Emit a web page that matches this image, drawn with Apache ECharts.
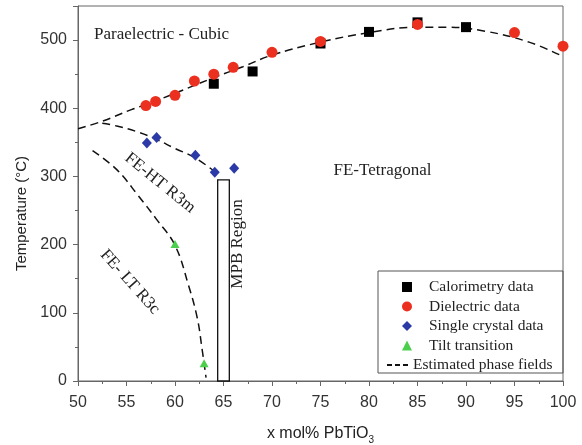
<!DOCTYPE html>
<html>
<head>
<meta charset="utf-8">
<script src="https://cdn.jsdelivr.net/npm/echarts@6.0.0/dist/echarts.min.js"></script>
<style>
html,body{margin:0;padding:0;background:#fff;}
#chart{width:582px;height:445px;}
</style>
</head>
<body>
<div id="chart"></div>
<script>
// ---- data ----
const xTicks = [50, 55, 60, 65, 70, 75, 80, 85, 90, 95, 100];
const yTicks = [0, 100, 200, 300, 400, 500];

const calorimetryX = [64, 68, 75, 80, 85, 90];
const calorimetryY = [436, 454, 495, 512, 526, 519];

const dielectricX = [57, 58, 60, 62, 64, 66, 70, 75, 85, 95, 100];
const dielectricY = [404, 410, 419, 440, 450, 460, 482, 498, 523, 511, 491];

const singleCrystalX = [57.1, 58.1, 62.1, 64.1, 66.1];
const singleCrystalY = [349, 357, 331, 306, 312];

const tiltX = [60, 63];
const tiltY = [201, 26];

// estimated phase boundaries (dashed)
const curieX = [50, 52.5, 55.5, 57.5, 60, 64, 67, 70, 75, 80, 85, 88, 92, 96.5, 100];
const curieY = [370, 381, 398, 408, 422, 445, 461, 478, 497, 511, 519, 519, 513, 497, 476];

const htBoundaryX = [52.5, 54, 56, 58, 60, 62, 64.2];
const htBoundaryY = [378, 374, 366, 355, 341, 328, 306];

const ltBoundaryX = [51.5, 54, 56.2, 58.1, 60, 61.4, 62.3, 62.8, 63.2];
const ltBoundaryY = [338, 310, 272, 237, 199, 140, 92, 46, 5];

// MPB region box: [xStart, xEnd, yStart, yEnd]
const mpbRegion = [64.4, 65.6, 0, 295];

const seriesNames = ['Calorimetry data', 'Dielectric data', 'Single crystal data', 'Tilt transition'];
const lineName = 'Estimated phase fields';

function zip(xs, ys) { return xs.map((x, i) => [x, ys[i]]); }

const serif = '"Liberation Serif", "Times New Roman", serif';
const sans = '"Liberation Sans", Arial, sans-serif';
const axisGray = '#666';

const dashStyle = { color: '#111', width: 1.5, type: [8, 5] };

const chart = echarts.init(document.getElementById('chart'), null, { renderer: 'canvas' });

const option = {
  animation: false,
  backgroundColor: '#fff',
  grid: { left: 78, right: 19, top: 6, bottom: 64, outerBoundsMode: 'none', containLabel: false,
    show: true, borderColor: axisGray, borderWidth: 1, backgroundColor: 'transparent' },
  xAxis: {
    type: 'value', min: xTicks[0], max: xTicks[xTicks.length - 1], interval: 5,
    name: 'x mol% PbTiO{s|3}', nameLocation: 'middle', nameGap: 42,
    nameTextStyle: { fontFamily: sans, fontSize: 16, color: '#222', lineHeight: 22,
      rich: { s: { fontFamily: sans, fontSize: 10, lineHeight: 10, verticalAlign: 'bottom', color: '#222' } } },
    axisLine: { show: true, lineStyle: { color: axisGray, width: 1 } },
    axisTick: { show: true, inside: false, length: 5, lineStyle: { color: axisGray } },
    minorTick: { show: true, splitNumber: 2, length: 3, lineStyle: { color: axisGray } },
    axisLabel: { fontFamily: sans, fontSize: 16, color: '#333', margin: 14 },
    splitLine: { show: false }
  },
  yAxis: {
    type: 'value', min: yTicks[0], max: 550, interval: 100,
    name: 'Temperature (°C)', nameLocation: 'middle', nameGap: 47,
    nameTextStyle: { fontFamily: sans, fontSize: 15, color: '#222', padding: [0, 40, 0, 0] },
    axisLine: { show: true, lineStyle: { color: axisGray, width: 1 } },
    axisTick: { show: true, inside: false, length: 5, lineStyle: { color: axisGray } },
    minorTick: { show: true, splitNumber: 2, length: 3, lineStyle: { color: axisGray } },
    axisLabel: { fontFamily: sans, fontSize: 16, color: '#333', margin: 11, showMaxLabel: false,
      formatter: v => (yTicks.indexOf(v) >= 0 ? String(v) : '') },
    splitLine: { show: false }
  },
  legend: [
    {
      data: seriesNames, orient: 'vertical', left: 402, top: 279, padding: 0,
      itemWidth: 10, itemHeight: 10, itemGap: 3.5,
      textStyle: { fontFamily: serif, fontSize: 15.5, color: '#222', lineHeight: 16, padding: [0, 0, 0, 12] }
    },
    {
      data: [{ name: lineName, icon: 'path://M0,0h5v2h-5zM8,0h5v2h-5zM16,0h5v2h-5z' }],
      orient: 'vertical', left: 387, top: 357, padding: 0,
      itemWidth: 21, itemHeight: 2,
      textStyle: { fontFamily: serif, fontSize: 15.5, color: '#222', lineHeight: 16 }
    }
  ],
  graphic: [
    { type: 'rect', shape: { x: 378, y: 271, width: 185, height: 102 }, style: { fill: 'transparent', stroke: '#555', lineWidth: 1 }, z: 1, silent: true },
    { type: 'text', x: 94, y: 35, style: { text: 'Paraelectric - Cubic', font: '17px ' + serif, fill: '#222', textAlign: 'left', textVerticalAlign: 'middle' } },
    { type: 'text', x: 382.5, y: 171, style: { text: 'FE-Tetragonal', font: '17px ' + serif, fill: '#222', textAlign: 'center', textVerticalAlign: 'middle' } },
    { type: 'text', x: 160, y: 183, rotation: -0.68, style: { text: 'FE-HT R3m', font: '17px ' + serif, fill: '#222', textAlign: 'center', textVerticalAlign: 'middle' } },
    { type: 'text', x: 130, y: 282, rotation: -0.84, style: { text: 'FE- LT R3c', font: '17px ' + serif, fill: '#222', textAlign: 'center', textVerticalAlign: 'middle' } },
    { type: 'text', x: 238, y: 244, rotation: Math.PI / 2, style: { text: 'MPB Region', font: '17px ' + serif, fill: '#222', textAlign: 'center', textVerticalAlign: 'middle' } }
  ],
  series: [
    { name: lineName, type: 'line', data: zip(curieX, curieY), smooth: 0.4, symbol: 'none', itemStyle: { color: '#111' }, lineStyle: dashStyle, z: 2, silent: true, clip: true },
    { name: lineName, type: 'line', data: zip(htBoundaryX, htBoundaryY), smooth: 0.4, symbol: 'none', itemStyle: { color: '#111' }, lineStyle: dashStyle, z: 2, silent: true, clip: true },
    { name: lineName, type: 'line', data: zip(ltBoundaryX, ltBoundaryY), smooth: 0.4, symbol: 'none', itemStyle: { color: '#111' }, lineStyle: dashStyle, z: 2, silent: true, clip: true },
    {
      name: 'MPB', type: 'custom', silent: true, z: 2,
      data: [mpbRegion],
      renderItem: function (params, api) {
        const p0 = api.coord([api.value(0), api.value(3)]);
        const p1 = api.coord([api.value(1), api.value(2)]);
        return { type: 'rect', shape: { x: p0[0], y: p0[1], width: p1[0] - p0[0], height: p1[1] - p0[1] },
          style: { fill: '#fff', stroke: '#111', lineWidth: 1.3 } };
      },
      encode: { x: [0, 1], y: [2, 3] }
    },
    { name: seriesNames[0], type: 'scatter', data: zip(calorimetryX, calorimetryY), symbol: 'rect', symbolSize: 10, itemStyle: { color: '#000', opacity: 1 }, z: 3 },
    { name: seriesNames[1], type: 'scatter', data: zip(dielectricX, dielectricY), symbol: 'circle', symbolSize: 11, itemStyle: { color: '#ec3020', opacity: 1 }, z: 4 },
    { name: seriesNames[2], type: 'scatter', data: zip(singleCrystalX, singleCrystalY), symbol: 'diamond', symbolSize: [10, 11], itemStyle: { color: '#2b3aa6', opacity: 1 }, z: 4 },
    { name: seriesNames[3], type: 'scatter', data: zip(tiltX, tiltY), symbol: 'triangle', symbolSize: [9, 8], itemStyle: { color: '#4ccf4c', opacity: 1 }, z: 4 }
  ]
};
chart.setOption(option);
</script>
</body>
</html>
